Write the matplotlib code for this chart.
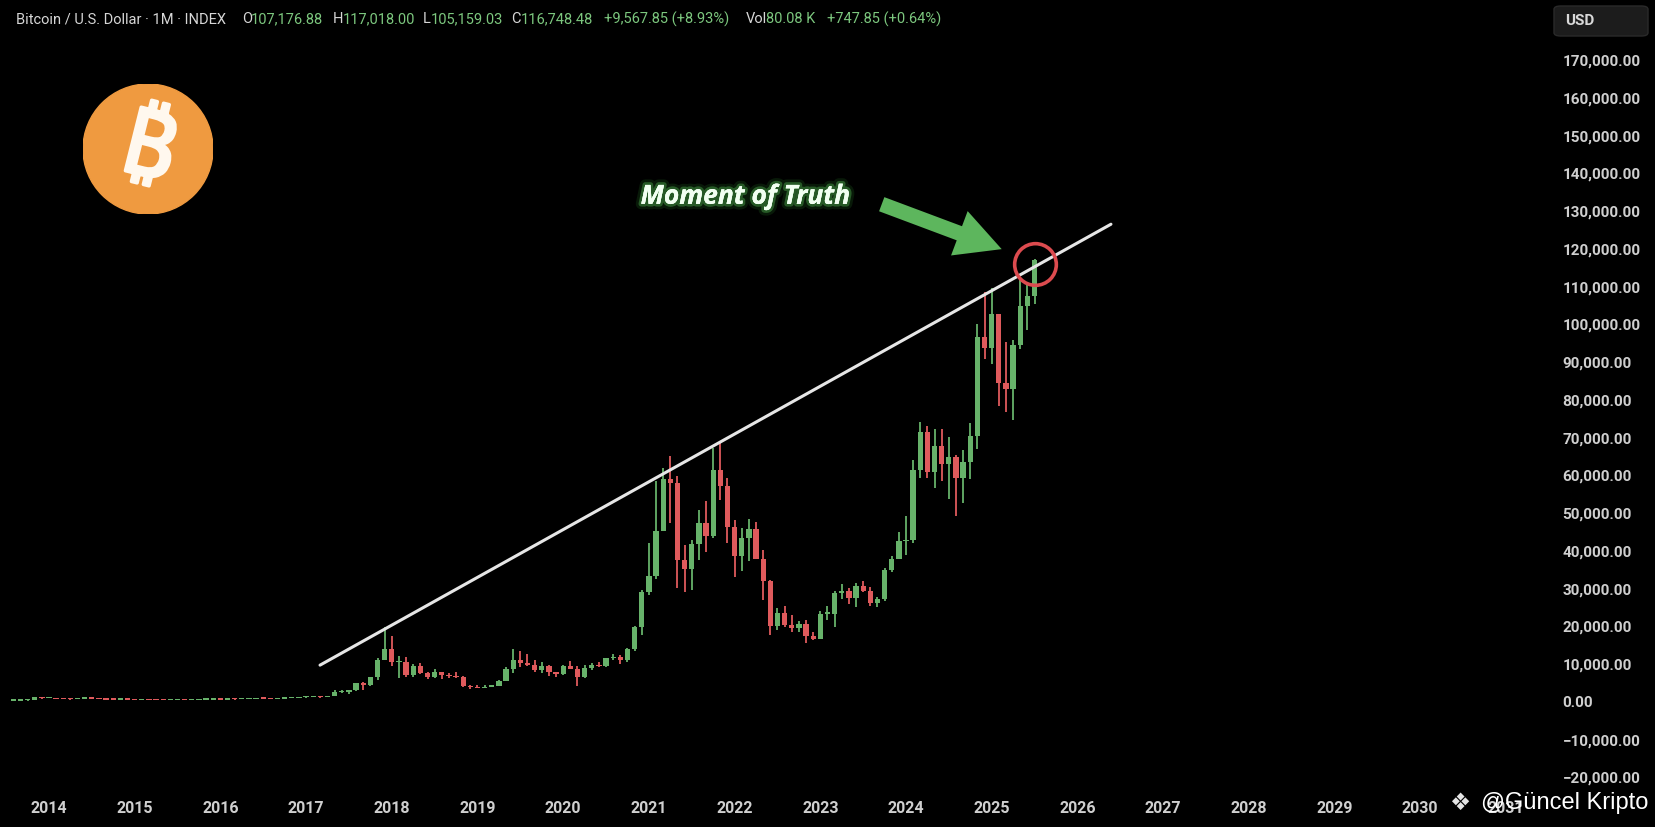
import numpy as np
import matplotlib.pyplot as plt
from matplotlib.patches import Circle, FancyBboxPatch
import matplotlib.patheffects as pe

# monthly candles, Aug 2013 .. Jul 2025 (month index 0 = Jan 2014)
first_month = -5
opens = [106, 129, 133, 204, 1130,
         754, 830, 570, 450, 447, 628, 640, 590, 480, 390, 338, 378,
         320, 217, 254, 244, 236, 230, 263, 284, 230, 236, 314, 378,
         430, 369, 437, 416, 448, 531, 673, 624, 574, 609, 700, 745,
         964, 970, 1190, 1080, 1350, 2300, 2480, 2875, 4700, 4340, 6470, 10800,
         13860, 10270, 10330, 6930, 9250, 7500, 6400, 7730, 7010, 6630, 6370, 4040,
         3740, 3460, 3820, 4100, 5320, 8570, 10820, 10080, 9590, 8290, 9150, 7560,
         7190, 9350, 8540, 6410, 8630, 9450, 9140, 11350, 11660, 10780, 13800, 19700,
         28990, 33115, 45137, 58740, 57720, 37300, 35040, 41460, 47100, 43820, 61300, 56950,
         46210, 38470, 43160, 45510, 37630, 31790, 19940, 23300, 20050, 19420, 20490, 17170,
         16540, 23140, 23150, 28480, 29240, 27220, 30480, 29230, 25940, 26970, 34640, 37720,
         42280, 42580, 61130, 71330, 60670, 67530, 62680, 64630, 58970, 63330, 70220, 96450,
         93430, 102430, 84350, 82550, 94200, 104600, 107177]
highs = [130, 146, 220, 1165, 1150,
         1020, 860, 710, 540, 635, 680, 660, 600, 500, 420, 460, 400,
         320, 265, 300, 262, 249, 268, 318, 286, 247, 336, 502, 469,
         462, 446, 439, 467, 550, 780, 705, 630, 628, 720, 755, 975,
         1160, 1210, 1300, 1420, 2790, 3000, 2920, 4740, 5000, 6470, 11500, 19700,
         17250, 11800, 11700, 9780, 9990, 7770, 8500, 7760, 7410, 7700, 6600, 4310,
         4110, 4200, 4160, 5630, 9000, 13880, 13200, 12320, 10950, 10370, 9500, 7740,
         9580, 10500, 9190, 9460, 10070, 10380, 11440, 12470, 12070, 14100, 19900, 29300,
         41950, 58352, 61788, 64854, 59500, 41330, 42600, 50500, 52920, 67000, 69000, 59050,
         47990, 45820, 48190, 47440, 40000, 31990, 24670, 25200, 22800, 21080, 21480, 18390,
         23960, 25250, 29200, 31000, 29820, 31390, 31800, 30200, 27470, 35200, 38400, 44700,
         48970, 63900, 73800, 72800, 71950, 71980, 70000, 65100, 66500, 73600, 99800, 108350,
         109350, 102500, 95000, 95750, 111900, 110400, 117018]
lows = [100, 110, 100, 200, 450,
        740, 420, 440, 340, 420, 540, 565, 450, 360, 275, 325, 305,
        152, 210, 235, 215, 224, 219, 253, 198, 225, 235, 300, 348,
        351, 365, 394, 414, 436, 515, 605, 480, 569, 603, 685, 745,
        750, 930, 890, 1060, 1350, 2150, 1830, 2700, 2970, 4100, 5500, 10800,
        9200, 6000, 6450, 6430, 7030, 5770, 6070, 5880, 6120, 6200, 3650, 3130,
        3350, 3390, 3780, 4080, 5320, 7480, 9070, 9370, 7710, 7300, 6510, 6430,
        6850, 8460, 3860, 6150, 8110, 8910, 8990, 10990, 9870, 10420, 13200, 17570,
        28130, 32300, 44950, 47044, 30000, 28800, 29300, 37330, 39600, 43280, 53250, 41970,
        32950, 34320, 37150, 37580, 26700, 17567, 18780, 19520, 18150, 18200, 15480, 16260,
        16500, 21350, 19570, 26940, 25810, 24800, 28860, 25170, 24900, 26550, 34100, 37600,
        38550, 41900, 59000, 59200, 56550, 58400, 53500, 49000, 52550, 58900, 66800, 90500,
        89250, 78250, 76550, 74400, 93350, 98200, 105159]
closes = [129, 133, 204, 1130, 754,
          830, 570, 450, 447, 628, 640, 590, 480, 390, 338, 378, 320,
          217, 254, 244, 236, 230, 263, 284, 230, 236, 314, 378, 430,
          369, 437, 416, 448, 531, 673, 624, 574, 609, 700, 745, 964,
          970, 1190, 1080, 1350, 2300, 2480, 2875, 4700, 4340, 6470, 10800, 13860,
          10270, 10330, 6930, 9250, 7500, 6400, 7730, 7010, 6630, 6370, 4040, 3740,
          3460, 3820, 4100, 5320, 8570, 10820, 10080, 9590, 8290, 9150, 7560, 7190,
          9350, 8540, 6410, 8630, 9450, 9140, 11350, 11660, 10780, 13800, 19700, 28990,
          33115, 45137, 58740, 57720, 37300, 35040, 41460, 47100, 43820, 61300, 56950, 46210,
          38470, 43160, 45510, 37630, 31790, 19940, 23300, 20050, 19420, 20490, 17170, 16540,
          23140, 23150, 28480, 29240, 27220, 30480, 29230, 25940, 26970, 34640, 37720, 42280,
          42580, 61130, 71330, 60670, 67530, 62680, 64630, 58970, 63330, 70220, 96450, 93430,
          102430, 84350, 82550, 94200, 104600, 107177, 116748]

years = list(range(2014, 2032))
price_ticks = list(range(-20000, 170001, 10000))

# hand-drawn trend line (month index, price)
trend_months = [37.95, 148.7]
trend_prices = [9500, 126300]

W, H = 1656, 828
month_px = 85.7 / 12
px_per_usd = 37.75 / 10000

fig = plt.figure(figsize=(W / 100, H / 100), dpi=100, facecolor='black')
ax = fig.add_axes([0, 1 - 790 / H, 1550 / W, 790 / H])
ax.set_facecolor('black')

x_left = -49 / month_px
ax.set_xlim(x_left, x_left + 1550 / month_px)
ax.set_ylim(-(790 - 702) / px_per_usd, 702 / px_per_usd)

o = np.array(opens, float)
h = np.array(highs, float)
l = np.array(lows, float)
c = np.array(closes, float)
t = first_month + np.arange(len(c))

up = c >= o
cols = np.where(up, '#67b26a', '#df5a5c')
body_low = np.minimum(o, c)
body_h = np.maximum(np.abs(c - o), 350)

ax.vlines(t, l, h, colors=cols, lw=1.3, zorder=2)
ax.bar(t, body_h, bottom=body_low, width=0.74, color=cols, lw=0, zorder=3)

ax.plot(trend_months, trend_prices, color='#e6e6e6', lw=2.2,
        solid_capstyle='round', zorder=4)

# red circle on the last candle
ax.plot(t[-1], 115700, 'o', ms=30, mfc='none', mec='#dc4b4f', mew=2.6, zorder=5)

# arrow + label
ax.annotate('', xy=(133.4, 119700), xytext=(116.6, 131600),
            arrowprops=dict(arrowstyle='simple,head_length=1.05,head_width=1.1,tail_width=0.35',
                            color='#5db65d', mutation_scale=31, lw=0,
                            shrinkA=0, shrinkB=0), zorder=5)
ax.text(97.5, 133700, 'Moment of Truth', ha='center', va='center',
        fontsize=19, fontweight='bold', style='italic', family='Open Sans',
        color='#f2fff2', zorder=6,
        path_effects=[pe.withStroke(linewidth=8, foreground='#2e8b2e', alpha=0.18),
                      pe.withStroke(linewidth=4, foreground='#5fd35f', alpha=0.35),
                      pe.Normal()])

# axes styling
for s in ax.spines.values():
    s.set_visible(False)
ax.yaxis.tick_right()
ax.set_yticks(price_ticks)
ax.set_yticklabels([f"{v:,.2f}".replace('-', '\u2212') for v in price_ticks])
ax.set_xticks([12 * (y - 2014) for y in years])
ax.set_xticklabels([str(y) for y in years])
ax.tick_params(axis='y', length=0, pad=9, labelsize=11, labelcolor='#cfcfcf')
ax.tick_params(axis='x', length=0, pad=8, labelsize=11.5, labelcolor='#cfcfcf')
for lab in ax.get_xticklabels() + ax.get_yticklabels():
    lab.set_family('Roboto')
    lab.set_fontweight('bold')

# header line
grey, green = '#d6d6d6', '#7cc77e'
header = [("Bitcoin / U.S. Dollar \u00b7 1M \u00b7 INDEX", grey, 16),
          ("O", grey, 242), ("107,176.88", green, 251),
          ("H", grey, 333), ("117,018.00", green, 343),
          ("L", grey, 423), ("105,159.03", green, 431),
          ("C", grey, 511), ("116,748.48", green, 521),
          ("+9,567.85 (+8.93%)", green, 604),
          ("Vol", grey, 746), ("80.08 K", green, 766),
          ("+747.85 (+0.64%)", green, 827)]
for txt, col, xp in header:
    fig.text(xp / W, 1 - 19 / H, txt, color=col, fontsize=10.5, family='Roboto',
             ha='left', va='center')

# USD box
fig.patches.append(FancyBboxPatch((1554 / W, 1 - 37 / H), 94 / W, 30 / H,
                                  boxstyle='round,pad=0,rounding_size=0.004',
                                  transform=fig.transFigure, facecolor='#1c1c1c',
                                  edgecolor='#2a2a2a', lw=1))
fig.text(1565 / W, 1 - 21 / H, 'USD', color='#d8d8d8', fontsize=11,
         family='Roboto', fontweight='bold', ha='left', va='center')

# bitcoin logo
lax = fig.add_axes([83 / W, 1 - 215 / H, 130 / W, 130 / H])
lax.set_xlim(0, 1)
lax.set_ylim(0, 1)
lax.axis('off')
lax.add_patch(Circle((0.5, 0.5), 0.5, color='#ef9a40'))
lax.text(0.5, 0.48, '\u20bf', ha='center', va='center', fontsize=66,
         fontweight='heavy', color='#fff8ee', rotation=-14,
         family=['Noto Sans', 'DejaVu Sans'],
         path_effects=[pe.withStroke(linewidth=2.5, foreground='#fff8ee')])

# watermark
fig.text(1460 / W, 1 - 803 / H, '\u2756', ha='center', va='center',
         fontsize=17, color='#e4e4e4', family='DejaVu Sans', zorder=10)
fig.text(1481 / W, 1 - 803 / H, '@G\u00fcncel Kripto', ha='left', va='center',
         fontsize=17, color='white', family='Liberation Sans', zorder=10)

fig.savefig('out.png', dpi=100, facecolor='black')
